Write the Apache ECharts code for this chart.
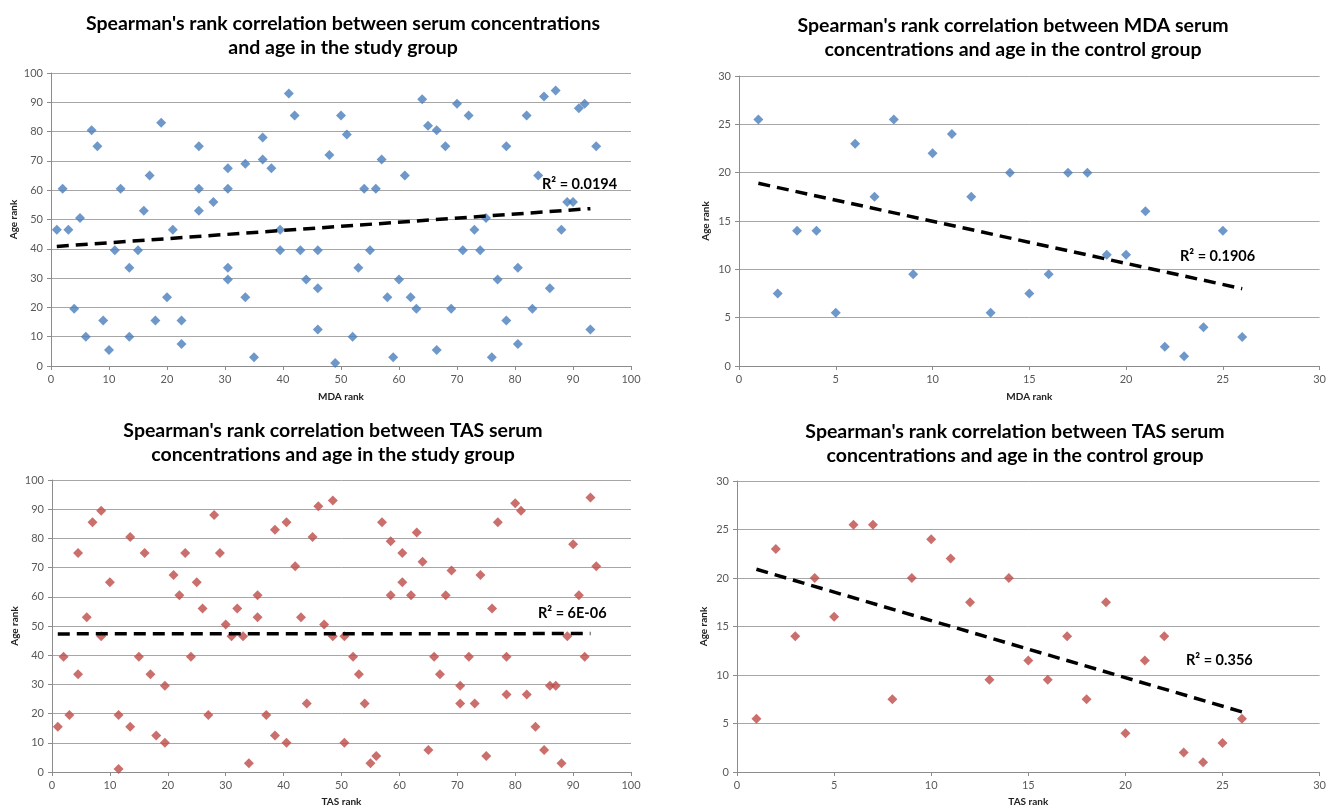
<!DOCTYPE html>
<html>
<head>
<meta charset="utf-8">
<script src="https://cdn.jsdelivr.net/npm/echarts@6/dist/echarts.min.js"></script>
<style>
  html, body { margin: 0; padding: 0; background: #fff; }
  #chart { width: 1329px; height: 808px; }
</style>
</head>
<body>
<div id="chart"></div>
<script>
  // rank pairs [x rank, age rank]
  const mdaStudy = [
    [1, 46.5], [2, 60.5], [3, 46.5], [4, 19.5], [5, 50.5], [6, 10], [7, 80.5], [8, 75], [9, 15.5], [10, 5.5],
    [11, 39.5], [12, 60.5], [13.5, 33.5], [13.5, 10], [15, 39.5], [16, 53], [17, 65], [18, 15.5], [19, 83], [20, 23.5],
    [21, 46.5], [22.5, 15.5], [22.5, 7.5], [25.5, 75], [25.5, 60.5], [25.5, 53], [28, 56], [30.5, 67.5], [30.5, 60.5], [30.5, 33.5],
    [30.5, 29.5], [33.5, 69], [33.5, 23.5], [35, 3], [36.5, 78], [36.5, 70.5], [38, 67.5], [39.5, 46.5], [39.5, 39.5], [41, 93],
    [42, 85.5], [43, 39.5], [44, 29.5], [46, 39.5], [46, 26.5], [46, 12.5], [48, 72], [49, 1], [50, 85.5], [51, 79],
    [52, 10], [53, 33.5], [54, 60.5], [55, 39.5], [56, 60.5], [57, 70.5], [58, 23.5], [59, 3], [60, 29.5], [61, 65],
    [62, 23.5], [63, 19.5], [64, 91], [65, 82], [66.5, 80.5], [66.5, 5.5], [68, 75], [69, 19.5], [70, 89.5], [71, 39.5],
    [72, 85.5], [73, 46.5], [74, 39.5], [75, 50.5], [76, 3], [77, 29.5], [78.5, 75], [78.5, 15.5], [80.5, 33.5], [80.5, 7.5],
    [82, 85.5], [83, 19.5], [84, 65], [85, 92], [86, 26.5], [87, 94], [88, 46.5], [89, 56], [90, 56], [91, 88],
    [92, 89.5], [93, 12.5], [94, 75]
  ]
  const mdaControl = [
    [1, 25.5], [2, 7.5], [3, 14], [4, 14], [5, 5.5], [6, 23], [7, 17.5], [8, 25.5], [9, 9.5], [10, 22],
    [11, 24], [12, 17.5], [13, 5.5], [14, 20], [15, 7.5], [16, 9.5], [17, 20], [18, 20], [19, 11.5], [20, 11.5],
    [21, 16], [22, 2], [23, 1], [24, 4], [25, 14], [26, 3]
  ]
  const tasStudy = [
    [1, 15.5], [2, 39.5], [3, 19.5], [4.5, 75], [4.5, 33.5], [6, 53], [7, 85.5], [8.5, 89.5], [8.5, 46.5], [10, 65],
    [11.5, 19.5], [11.5, 1], [13.5, 80.5], [13.5, 15.5], [15, 39.5], [16, 75], [17, 33.5], [18, 12.5], [19.5, 29.5], [19.5, 10],
    [21, 67.5], [22, 60.5], [23, 75], [24, 39.5], [25, 65], [26, 56], [27, 19.5], [28, 88], [29, 75], [30, 50.5],
    [31, 46.5], [32, 56], [33, 46.5], [34, 3], [35.5, 60.5], [35.5, 53], [37, 19.5], [38.5, 83], [38.5, 12.5], [40.5, 85.5],
    [40.5, 10], [42, 70.5], [43, 53], [44, 23.5], [45, 80.5], [46, 91], [47, 50.5], [48.5, 93], [48.5, 46.5], [50.5, 46.5],
    [50.5, 10], [52, 39.5], [53, 33.5], [54, 23.5], [55, 3], [56, 5.5], [57, 85.5], [58.5, 79], [58.5, 60.5], [60.5, 75],
    [60.5, 65], [62, 60.5], [63, 82], [64, 72], [65, 7.5], [66, 39.5], [67, 33.5], [68, 60.5], [69, 69], [70.5, 29.5],
    [70.5, 23.5], [72, 39.5], [73, 23.5], [74, 67.5], [75, 5.5], [76, 56], [77, 85.5], [78.5, 39.5], [78.5, 26.5], [80, 92],
    [81, 89.5], [82, 26.5], [83.5, 15.5], [85, 7.5], [86, 29.5], [87, 29.5], [88, 3], [89, 46.5], [90, 78], [91, 60.5],
    [92, 39.5], [93, 94], [94, 70.5]
  ]
  const tasControl = [
    [1, 5.5], [2, 23], [3, 14], [4, 20], [5, 16], [6, 25.5], [7, 25.5], [8, 7.5], [9, 20], [10, 24],
    [11, 22], [12, 17.5], [13, 9.5], [14, 20], [15, 11.5], [16, 9.5], [17, 14], [18, 7.5], [19, 17.5], [20, 4],
    [21, 11.5], [22, 14], [23, 2], [24, 1], [25, 3], [26, 5.5]
  ]

  // linear trend line end points
  const trendMdaStudy = [[1, 40.8], [93, 53.7]]
  const trendMdaControl = [[1, 18.9], [26, 8.0]]
  const trendTasStudy = [[1, 47.3], [93, 47.4]]
  const trendTasControl = [[1, 20.9], [26, 6.2]]

  const r2Labels = ['R² = 0.0194', 'R² = 0.1906', 'R² = 6E-06', 'R² = 0.356']
  const titles = [
    "Spearman's rank correlation between serum concentrations\nand age in the study group",
    "Spearman's rank correlation between MDA serum\nconcentrations and age in the control group",
    "Spearman's rank correlation between TAS serum\nconcentrations and age in the study group",
    "Spearman's rank correlation between TAS serum\nconcentrations and age in the control group"
  ]
  const xNames = ['MDA rank', 'MDA rank', 'TAS rank', 'TAS rank']

  const BLUE = '#4a7ebb'
  const RED = '#be4b48'
  const FONT = 'Lato'

  const grids = [
    { left: 51, top: 73, width: 580, height: 293 },
    { left: 739, top: 76, width: 584, height: 290 },
    { left: 52, top: 480, width: 579, height: 292 },
    { left: 737, top: 481, width: 586, height: 292 }
  ]
  const xRanges = [[100, 10], [30, 5], [100, 10], [30, 5]]
  const yRanges = [[100, 10], [30, 5], [100, 10], [30, 5]]
  const titlePos = [[343, 12], [1013, 14], [333, 419], [1015, 420]]
  const r2Pos = [[542, 177], [1180, 249], [538, 606], [1186, 653]]
  const xNameGap = [26, 26, 25, 25]

  function makeXAxis(i) {
    return {
      gridIndex: i,
      type: 'value',
      min: 0,
      max: xRanges[i][0],
      interval: xRanges[i][1],
      name: xNames[i],
      nameLocation: 'middle',
      nameGap: xNameGap[i],
      nameTextStyle: { fontFamily: FONT, fontWeight: 'bold', fontSize: 10, color: '#222' },
      axisLine: { show: true, lineStyle: { color: '#8c8c8c', width: 1 } },
      axisTick: { show: true, length: 4, lineStyle: { color: '#8c8c8c' } },
      axisLabel: { fontFamily: FONT, fontSize: 11, color: '#595959', margin: 8 },
      splitLine: { show: false }
    }
  }

  function makeYAxis(i) {
    return {
      gridIndex: i,
      type: 'value',
      min: 0,
      max: yRanges[i][0],
      interval: yRanges[i][1],
      name: 'Age rank',
      nameLocation: 'middle',
      nameRotate: 90,
      nameGap: i % 2 === 0 ? 32 : 28,
      nameTextStyle: { fontFamily: FONT, fontWeight: 'bold', fontSize: 10, color: '#222' },
      axisLine: { show: true, lineStyle: { color: '#8c8c8c', width: 1 } },
      axisTick: { show: true, length: 4, lineStyle: { color: '#8c8c8c' } },
      axisLabel: { fontFamily: FONT, fontSize: 11, color: '#595959', margin: 8 },
      splitLine: { show: true, lineStyle: { color: '#a6a6a6', width: 1 } }
    }
  }

  function scatter(i, data, color) {
    return {
      type: 'scatter',
      xAxisIndex: i,
      yAxisIndex: i,
      data: data,
      symbol: 'diamond',
      symbolSize: 10,
      itemStyle: { color: color },
      z: 3,
      animation: false
    }
  }

  function trend(i, data) {
    return {
      type: 'line',
      xAxisIndex: i,
      yAxisIndex: i,
      data: data,
      symbol: 'none',
      lineStyle: { color: '#000', width: 3.5, type: [12, 7] },
      z: 4,
      silent: true,
      animation: false
    }
  }

  const chart = echarts.init(document.getElementById('chart'), null, { renderer: 'canvas' })

  chart.setOption({
    backgroundColor: '#fff',
    animation: false,
    title: titles.map((t, i) => ({
      text: t,
      left: titlePos[i][0],
      top: titlePos[i][1],
      padding: 0,
      textAlign: 'center',
      textStyle: { fontFamily: FONT, fontWeight: 'bold', fontSize: 19.5, color: '#000', lineHeight: 24 }
    })),
    grid: grids,
    xAxis: [0, 1, 2, 3].map(makeXAxis),
    yAxis: [0, 1, 2, 3].map(makeYAxis),
    series: [
      scatter(0, mdaStudy, BLUE),
      trend(0, trendMdaStudy),
      scatter(1, mdaControl, BLUE),
      trend(1, trendMdaControl),
      scatter(2, tasStudy, RED),
      trend(2, trendTasStudy),
      scatter(3, tasControl, RED),
      trend(3, trendTasControl)
    ],
    graphic: r2Labels.map((t, i) => ({
      type: 'text',
      left: r2Pos[i][0],
      top: r2Pos[i][1],
      style: { text: t, font: 'bold 14.5px Lato', fill: '#000' },
      z: 10
    }))
  })
</script>
</body>
</html>
